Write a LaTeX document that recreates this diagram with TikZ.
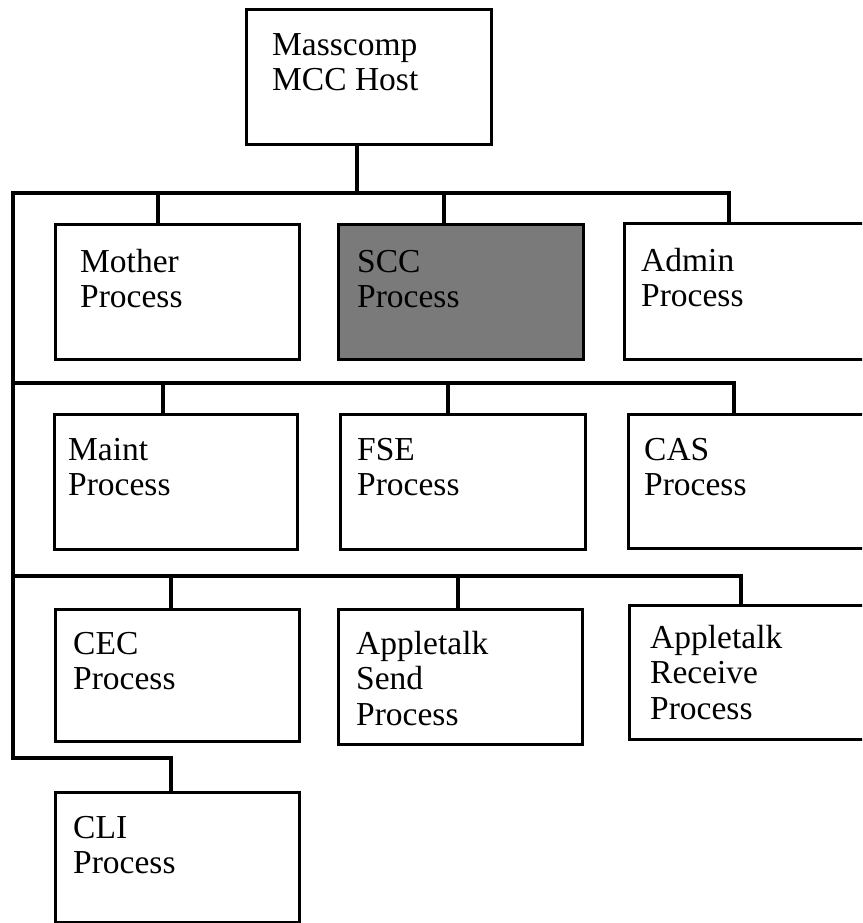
\documentclass[tikz,border=0pt]{standalone}
\usepackage{fontspec}
\setmainfont{Liberation Serif}
\begin{document}
\begin{tikzpicture}[x=1pt,y=-1pt,
  ln/.style={line width=3.4pt, line cap=rect, line join=miter},
  bx/.style={draw, line width=3.4pt, rectangle, inner sep=0pt},
  lbl/.style={anchor=north west, inner sep=0pt, align=left,
     font=\fontsize{33.5}{35.5}\selectfont}]
\useasboundingbox (0,0) rectangle (862,923);
\clip (0,0) rectangle (862,923);
% boxes
\newcommand{\mybox}[6]{%
  \node[bx,#6, minimum width=#4-#2, minimum height=#5-#3, anchor=north west] (#1) at (#2,#3) {};}
\mybox{host}{245}{8}{490}{143}{}
\mybox{mother}{54}{223}{298}{358}{}
\mybox{scc}{337}{223}{582}{358}{fill=black!52}
\mybox{admin}{623}{222}{875}{358}{}
\mybox{maint}{53}{413}{296}{548}{}
\mybox{fse}{339}{413}{584}{548}{}
\mybox{cas}{627}{413}{875}{547}{}
\mybox{cec}{54}{608}{298}{740}{}
\mybox{send}{337}{608}{581}{743}{}
\mybox{recv}{628}{604}{875}{738}{}
\mybox{cli}{54}{791}{298}{921}{}
% labels
\newcommand{\strt}{\rule{0pt}{25pt}}
\node[lbl] (thost) at ([shift={(27,22)}]host.north west) {\strt Masscomp\\MCC Host};
\node[lbl] (tmother) at ([shift={(26,24)}]mother.north west) {\strt Mother\\Process};
\node[lbl] (tscc) at ([shift={(20,24)}]scc.north west) {\strt SCC\\Process};
\node[lbl] (tadmin) at ([shift={(18,24)}]admin.north west) {\strt Admin\\Process};
\node[lbl] (tmaint) at ([shift={(15,22)}]maint.north west) {\strt Maint\\Process};
\node[lbl] (tfse) at ([shift={(18,22)}]fse.north west) {\strt FSE\\Process};
\node[lbl] (tcas) at ([shift={(17,22)}]cas.north west) {\strt CAS\\Process};
\node[lbl] (tcec) at ([shift={(19,21)}]cec.north west) {\strt CEC\\Process};
\node[lbl] (tsend) at ([shift={(19,21)}]send.north west) {\strt Appletalk\\Send\\Process};
\node[lbl] (trecv) at ([shift={(22,19)}]recv.north west) {\strt Appletalk\\Receive\\Process};
\node[lbl] (tcli) at ([shift={(19,22)}]cli.north west) {\strt CLI\\Process};
% bus coordinates
\coordinate (hb) at (357,193);
\coordinate (b1L) at (13,193); \coordinate (b1R) at (729,193);
\coordinate (b2L) at (13,383); \coordinate (b2R) at (734,383);
\coordinate (b3L) at (13,576); \coordinate (b3R) at (741,576);
\coordinate (b4L) at (13,758); \coordinate (b4R) at (171,758);
\coordinate (d1a) at (158,193); \coordinate (d1b) at (444,193);
\coordinate (d2a) at (163,383); \coordinate (d2b) at (448,383);
\coordinate (d3a) at (171,576); \coordinate (d3b) at (458,576);
% connectors
\draw[ln] (host.south -| hb) -- (hb);
\draw[ln] (b1R) -- (b1L) -- (b4L) -- (b4R) -- (cli.north -| b4R);
\draw[ln] (b1R) -- (admin.north -| b1R);
\draw[ln] (d1a) -- (mother.north -| d1a);
\draw[ln] (d1b) -- (scc.north -| d1b);
\draw[ln] (b2L) -- (b2R) -- (cas.north -| b2R);
\draw[ln] (d2a) -- (maint.north -| d2a);
\draw[ln] (d2b) -- (fse.north -| d2b);
\draw[ln] (b3L) -- (b3R) -- (recv.north -| b3R);
\draw[ln] (d3a) -- (cec.north -| d3a);
\draw[ln] (d3b) -- (send.north -| d3b);
\end{tikzpicture}
\end{document}
